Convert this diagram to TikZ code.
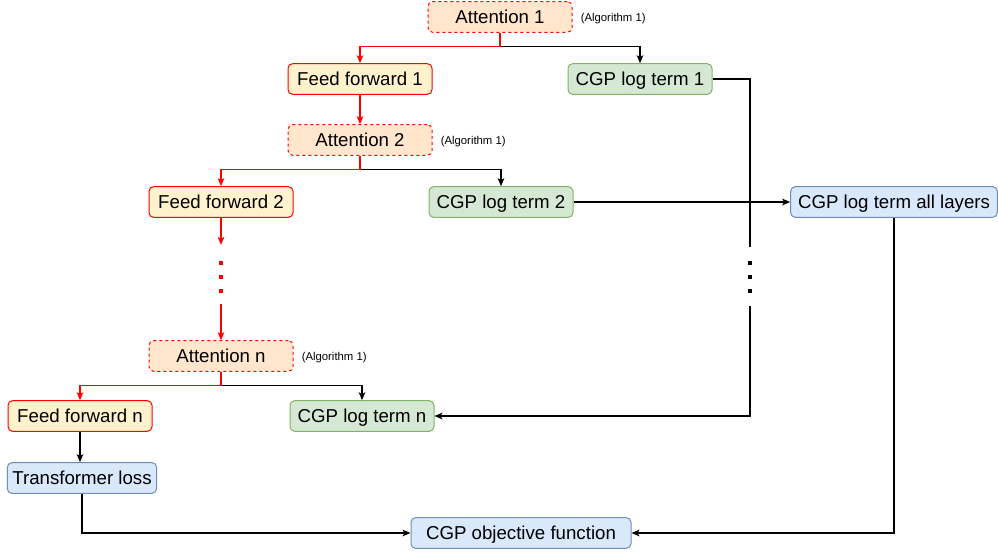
\documentclass[tikz,border=0pt]{standalone}
\usepackage{fontspec}
\setmainfont{Liberation Sans}
\usetikzlibrary{arrows.meta,positioning,calc}
\definecolor{Ink}{HTML}{000000}
\definecolor{Red}{HTML}{FF0000}
\definecolor{OrangeSoft}{HTML}{FFE6CC}
\definecolor{YellowSoft}{HTML}{FFF2CC}
\definecolor{Green}{HTML}{82B366}
\definecolor{GreenSoft}{HTML}{D5E8D4}
\definecolor{Blue}{HTML}{6C8EBF}
\definecolor{BlueSoft}{HTML}{DAE8FC}
\tikzset{
  flow/.style={draw,line width=0.75pt,rounded corners=3.5pt,minimum width=108pt,minimum height=23pt,inner xsep=2pt,inner ysep=0pt,text height=13pt,text depth=3pt,align=center,text=Ink,font=\fontsize{14}{16}\selectfont},
  flowatt/.style={flow,draw=Red,fill=OrangeSoft,dash pattern=on 2.25pt off 2.25pt},
  flowff/.style={flow,draw=Red,fill=YellowSoft},
  flowcgp/.style={flow,draw=Green,fill=GreenSoft},
  flowblue/.style={flow,draw=Blue,fill=BlueSoft},
  algo/.style={anchor=west,inner sep=0pt,xshift=6pt,yshift=-1.5pt,text=Ink,font=\fontsize{8.5}{10}\selectfont},
  link/.style={line width=0.8pt,draw=Ink},
  arrow/.style={link,-{Stealth[length=6pt,width=5pt,inset=1.5pt]}},
  redArrow/.style={arrow,draw=Red}
}
\begin{document}
\begin{tikzpicture}[x=0.75pt,y=-0.75pt]
  \useasboundingbox (0,0) rectangle (998,553);
  % layers
  \node[flowatt] (att1) at (500,17) {Attention 1};
  \node[algo] at (att1.east) {(Algorithm 1)};
  \node[flowff] (ff1) at (360,79) {Feed forward 1};
  \node[flowcgp] (cgp1) at (640,79) {CGP log term 1};
  \node[flowatt] (att2) at (360,140) {Attention 2};
  \node[algo] at (att2.east) {(Algorithm 1)};
  \node[flowff] (ff2) at (221,202) {Feed forward 2};
  \node[flowcgp] (cgp2) at (501,202) {CGP log term 2};
  \node[flowatt] (attn) at (221,356) {Attention n};
  \node[algo] at (attn.east) {(Algorithm 1)};
  \node[flowff] (ffn) at (80,416) {Feed forward n};
  \node[flowcgp] (cgpn) at (362,416) {CGP log term n};
  % losses
  \node[flowblue,minimum width=112pt] (tl) at (82,478) {Transformer loss};
  \node[flowblue,minimum width=155pt] (all) at (894,202) {CGP log term all layers};
  \node[flowblue,minimum width=165pt] (obj) at (521,533) {CGP objective function};
  % gaps for the dots
  \coordinate (ffgap) at ($(ff2.south)+(0,27)$);
  \coordinate (attgap) at ($(attn.north)+(0,-36)$);
  \coordinate (rgapA) at (750,247);
  \coordinate (rgapB) at (750,306);
  % branches
  \draw[arrow] (att1.south) ++(0,14) -| (cgp1.north);
  \draw[redArrow] (att1.south) -- ++(0,14) -| (ff1.north);
  \draw[redArrow] (ff1) -- (att2);
  \draw[arrow] (att2.south) ++(0,14) -| (cgp2.north);
  \draw[redArrow] (att2.south) -- ++(0,14) -| (ff2.north);
  \draw[redArrow] (ff2) -- (ffgap);
  \foreach \d in {45,59,73}
    \fill[Red] ($(ff2.south)+(-2.2,\d-2.2)$) rectangle ++(4.4,4.4);
  \draw[redArrow] (attgap) -- (attn);
  \draw[arrow] (attn.south) ++(0,14) -| (cgpn.north);
  \draw[redArrow] (attn.south) -- ++(0,14) -| (ffn.north);
  \draw[arrow] (ffn.south) -- (ffn.south |- tl.north);
  % log terms
  \draw[link] (cgp1.east) -| (rgapA);
  \foreach \y in {263,277,291}
    \fill[Ink] (750-2.2,\y-2.2) rectangle ++(4.4,4.4);
  \draw[arrow] (rgapB) |- (cgpn.east);
  \draw[arrow] (cgp2) -- (all);
  % objective
  \draw[arrow] (tl.south) |- (obj.west);
  \draw[arrow] (all.south) |- (obj.east);
\end{tikzpicture}
\end{document}
